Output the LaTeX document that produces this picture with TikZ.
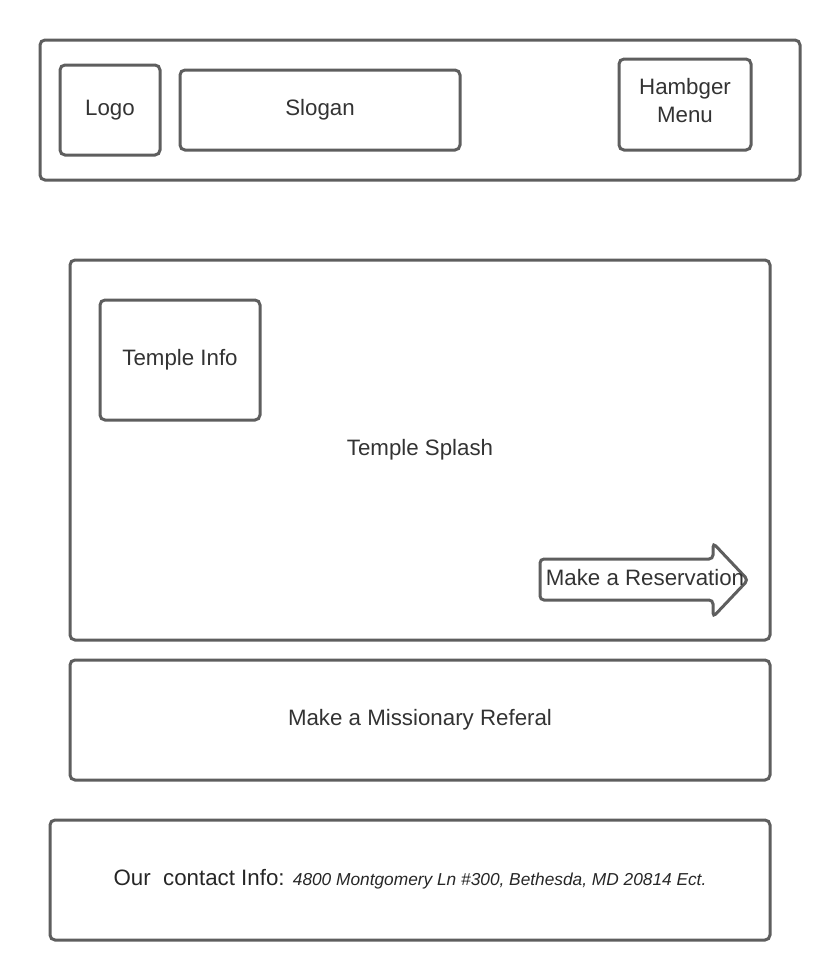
\documentclass[tikz,border=0pt]{standalone}
\usepackage{fontspec}
\setmainfont{Liberation Sans}
\definecolor{boxline}{HTML}{5E5E5E}
\definecolor{labeltext}{HTML}{333333}
\begin{document}
\begin{tikzpicture}[x=1pt,y=-1pt]
		\tikzstyle{frame}=[draw=boxline,line width=3pt,rounded corners=5pt,shape=rectangle,inner sep=0pt]
		\tikzstyle{labelled}=[frame,text=labeltext,font=\fontsize{22.3}{27.5}\selectfont,text height=16pt,text depth=5pt]

		\useasboundingbox (0,0) rectangle (840,980);

		\node[frame,minimum width=760pt,minimum height=140pt](header) at (420,110){};
		\node[labelled,minimum width=100pt,minimum height=90pt](logo) at (110,110){Logo};
		\node[labelled,minimum width=280pt,minimum height=80pt](slogan) at (320,110){Slogan};
		\node[labelled,minimum width=132pt,minimum height=91pt,align=center,text height=43.5pt,text depth=8pt](menu) at (685,104.5){Hambger\\Menu};

		\node[labelled,minimum width=700pt,minimum height=380pt](splash) at (420,450){Temple Splash};
		\node[labelled,minimum width=160pt,minimum height=120pt](info) at (180,360){Temple Info};

		\draw[draw=boxline,line width=3pt,rounded corners=4pt] (540,559) -- (713,559) -- (713,543) -- (748,580) -- (713,617) -- (713,600) -- (540,600) -- cycle;
		\node[text=labeltext,font=\fontsize{22.3}{27.5}\selectfont,text height=16pt,text depth=0pt,inner sep=0pt](reserve) at (645,577){Make a Reservation};

		\node[labelled,minimum width=700pt,minimum height=120pt](referral) at (420,720){Make a Missionary Referal};

		\node[labelled,minimum width=720pt,minimum height=120pt,text=black!85](contact) at (410,880){Our\ \ contact Info: {\fontsize{17.3}{20}\selectfont\itshape 4800 Montgomery Ln \#300, Bethesda, MD 20814 Ect.}};

        \end{tikzpicture}
\end{document}
